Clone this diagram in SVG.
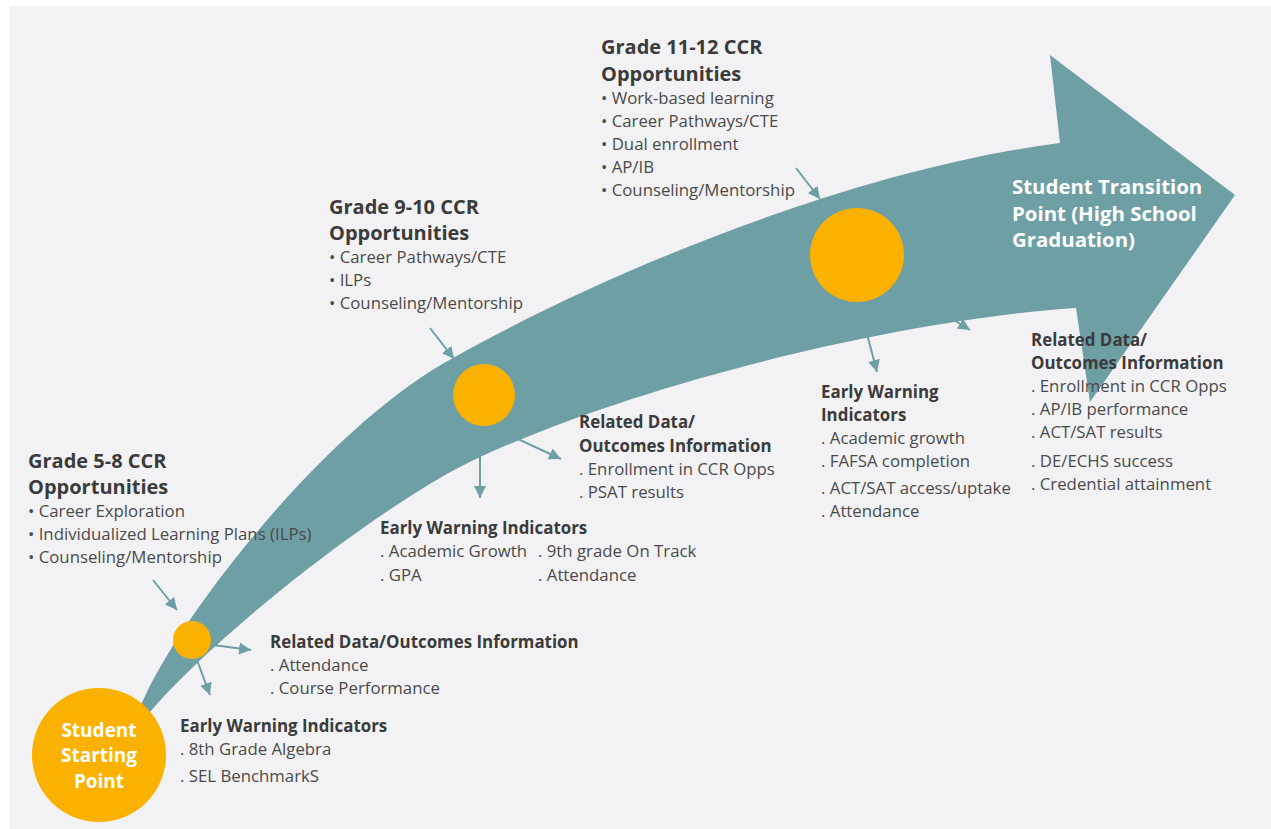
<svg xmlns="http://www.w3.org/2000/svg" width="1271" height="829" viewBox="0 0 1271 829">
  <defs>
    <style>
      .h { font-family: "Open Sans", "Liberation Sans", sans-serif; font-weight: 700; fill: #3b3b3b; }
      .g { font-size: 20px; }
      .d { font-size: 16.9px; }
      .t { font-family: "Open Sans", "Liberation Sans", sans-serif; font-size: 16.8px; fill: #4a4a4a; }
      .w { font-family: "Open Sans", "Liberation Sans", sans-serif; font-weight: 700; fill: #ffffff; }
      .dot { fill: #fbb100; }
      .conn { stroke: #6e9fa5; stroke-width: 2; fill: none; marker-end: url(#ah); }
    </style>
    <marker id="ah" markerUnits="userSpaceOnUse" markerWidth="12" markerHeight="12" refX="10" refY="5" orient="auto" viewBox="0 0 10 10">
      <path d="M0 0 L10 5 L0 10 Z" fill="#6e9fa5"/>
    </marker>
  </defs>
  <rect x="0" y="0" width="1271" height="829" fill="#ffffff"/>
  <rect x="10" y="6" width="1261" height="823" fill="#f2f2f4"/>

  <g id="main-arrow">
    <path d="M140 708 C170 630 320 430 453 358 C600 275 850 170 1060 143 L1050 55 L1235 195 L1090 402 L1076 308 C920 318 660 375 480 457 C390 498 220 630 150 712 L120 745 Z" fill="#6e9fa5"/>
  </g>

  <g id="connectors">
    <line class="conn" x1="153" y1="580" x2="177" y2="610"/>
    <line class="conn" x1="213" y1="645" x2="251" y2="650"/>
    <line class="conn" x1="197" y1="660" x2="210" y2="695"/>
    <line class="conn" x1="430" y1="328" x2="454" y2="359"/>
    <line class="conn" x1="480" y1="437" x2="480" y2="498"/>
    <line class="conn" x1="503" y1="432" x2="561" y2="459"/>
    <line class="conn" x1="796" y1="168" x2="820" y2="199"/>
    <line class="conn" x1="862" y1="315" x2="877" y2="372"/>
    <line class="conn" x1="917" y1="297" x2="970" y2="330"/>
  </g>

  <g id="start-point">
    <circle class="dot" cx="99" cy="755" r="67"/>
    <text class="w" font-size="19" text-anchor="middle"><tspan x="99" y="737">Student</tspan><tspan x="99" y="762">Starting</tspan><tspan x="99" y="788">Point</tspan></text>
  </g>

  <g id="milestone-1"><circle class="dot" cx="192" cy="640" r="19"/></g>
  <g id="milestone-2"><circle class="dot" cx="484" cy="395" r="31"/></g>
  <g id="milestone-3"><circle class="dot" cx="857" cy="255" r="47"/></g>

  <g id="transition-point">
    <text class="w" font-size="20.4"><tspan x="1012" y="194">Student Transition</tspan><tspan x="1012" y="221">Point (High School</tspan><tspan x="1012" y="247">Graduation)</tspan></text>
  </g>

  <g id="grade-5-8">
    <text class="h g"><tspan x="28" y="468">Grade 5-8 CCR</tspan><tspan x="28" y="494">Opportunities</tspan></text>
    <text class="t"><tspan x="28" y="517">• Career Exploration</tspan><tspan x="28" y="540">• Individualized Learning Plans (ILPs)</tspan><tspan x="28" y="563">• Counseling/Mentorship</tspan></text>
  </g>

  <g id="grade-9-10">
    <text class="h g"><tspan x="329" y="214">Grade 9-10 CCR</tspan><tspan x="329" y="240">Opportunities</tspan></text>
    <text class="t"><tspan x="329" y="263">• Career Pathways/CTE</tspan><tspan x="329" y="286">• ILPs</tspan><tspan x="329" y="309">• Counseling/Mentorship</tspan></text>
  </g>

  <g id="grade-11-12">
    <text class="h g"><tspan x="601" y="54">Grade 11-12 CCR</tspan><tspan x="601" y="81">Opportunities</tspan></text>
    <text class="t"><tspan x="601" y="104">• Work-based learning</tspan><tspan x="601" y="127">• Career Pathways/CTE</tspan><tspan x="601" y="150">• Dual enrollment</tspan><tspan x="601" y="173">• AP/IB</tspan><tspan x="601" y="196">• Counseling/Mentorship</tspan></text>
  </g>

  <g id="data-1">
    <text class="h d" x="270" y="648">Related Data/Outcomes Information</text>
    <text class="t"><tspan x="270" y="671">. Attendance</tspan><tspan x="270" y="694">. Course Performance</tspan></text>
  </g>

  <g id="ewi-1">
    <text class="h d" x="180" y="732">Early Warning Indicators</text>
    <text class="t"><tspan x="180" y="755">. 8th Grade Algebra</tspan><tspan x="180" y="782">. SEL BenchmarkS</tspan></text>
  </g>

  <g id="data-2">
    <text class="h d"><tspan x="579" y="428">Related Data/</tspan><tspan x="579" y="452">Outcomes Information</tspan></text>
    <text class="t"><tspan x="579" y="475">. Enrollment in CCR Opps</tspan><tspan x="579" y="498">. PSAT results</tspan></text>
  </g>

  <g id="ewi-2">
    <text class="h d" x="380" y="534">Early Warning Indicators</text>
    <text class="t"><tspan x="380" y="557">. Academic Growth</tspan><tspan x="380" y="581">. GPA</tspan></text>
    <text class="t"><tspan x="538" y="557">. 9th grade On Track</tspan><tspan x="538" y="581">. Attendance</tspan></text>
  </g>

  <g id="ewi-3">
    <text class="h d"><tspan x="821" y="398">Early Warning</tspan><tspan x="821" y="421">Indicators</tspan></text>
    <text class="t"><tspan x="821" y="444">. Academic growth</tspan><tspan x="821" y="467">. FAFSA completion</tspan><tspan x="821" y="494">. ACT/SAT access/uptake</tspan><tspan x="821" y="517">. Attendance</tspan></text>
  </g>

  <g id="data-3">
    <text class="h d"><tspan x="1031" y="346">Related Data/</tspan><tspan x="1031" y="369">Outcomes Information</tspan></text>
    <text class="t"><tspan x="1031" y="392">. Enrollment in CCR Opps</tspan><tspan x="1031" y="415">. AP/IB performance</tspan><tspan x="1031" y="438">. ACT/SAT results</tspan><tspan x="1031" y="467">. DE/ECHS success</tspan><tspan x="1031" y="490">. Credential attainment</tspan></text>
  </g>
</svg>
